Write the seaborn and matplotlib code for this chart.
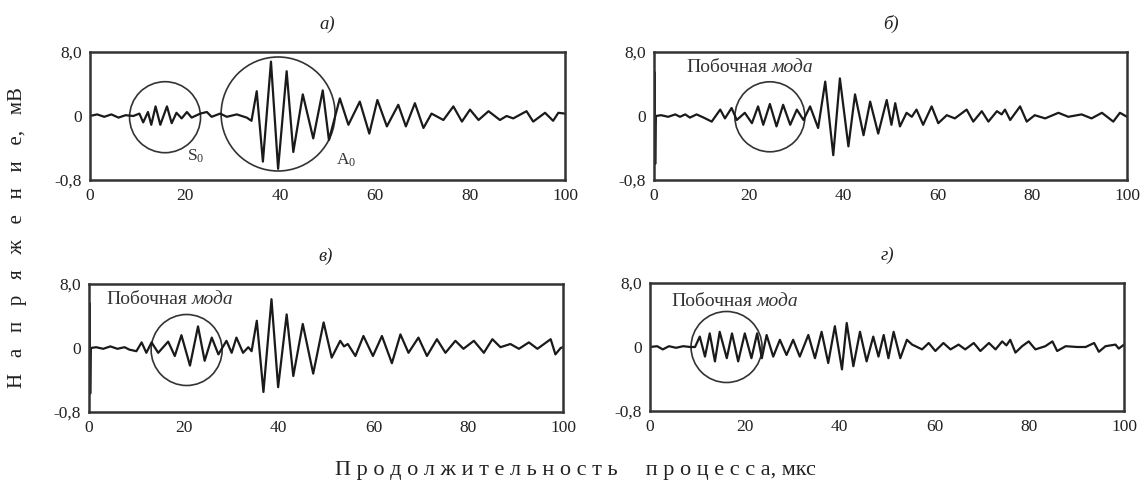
import numpy as np
import pandas as pd
import matplotlib
matplotlib.use("Agg")
import matplotlib.pyplot as plt
from matplotlib.patches import Ellipse
import seaborn as sns

# ---------------- data ----------------
t_a = [0, 1.5, 3, 4.5, 6, 7.5, 9.1, 10.4, 11.2, 12.2, 12.9, 13.8, 14.8, 16.2, 17.2, 18.2,
       19.3, 20.4, 21.4, 23.2, 24.6, 25.6, 27.4, 28.8, 30.9, 33.0, 34.0, 35.1, 36.4, 38.1,
       39.6, 41.4, 42.8, 44.8, 47.0, 49.0, 50.3, 52.6, 54.4, 56.8, 58.8, 60.5, 62.5, 64.9,
       66.5, 68.4, 70.2, 71.9, 74.4, 76.5, 78.3, 80.0, 81.8, 83.9, 86.3, 87.7, 89.1, 91.9,
       93.3, 95.8, 97.5, 98.6, 100]
v_a = [0, 0.2, -0.1, 0.2, -0.2, 0.1, 0, 0.3, -0.8, 0.5, -1.1, 1.2, -1.1, 1.2, -0.9, 0.4,
       -0.3, 0.5, -0.2, 0.3, 0.5, -0.1, 0.3, -0.1, 0.2, -0.2, -0.6, 3.1, -5.7, 6.8,
       -6.6, 5.6, -4.5, 2.7, -2.8, 3.2, -3.0, 2.2, -1.1, 1.8, -2.2, 2.0, -1.3, 1.4,
       -1.3, 1.6, -1.5, 0.3, -0.5, 1.2, -0.7, 0.8, -0.5, 0.6, -0.5, 0.0, -0.3, 0.6,
       -0.7, 0.4, -0.6, 0.4, 0.3]

t_b = [0, 0.1, 0.25, 0.4, 1.5, 3, 4.5, 5.5, 6.6, 7.6, 9, 10.5, 12.2, 14.0, 15.0, 16.4,
       17.5, 19.2, 20.7, 22.0, 23.1, 24.5, 25.9, 27.3, 28.8, 30.2, 31.6, 33.0, 34.7, 36.2,
       37.9, 39.3, 41.1, 42.5, 44.3, 45.7, 47.4, 49.2, 50.2, 51.0, 52.0, 53.4, 54.5, 55.5,
       56.9, 58.7, 60.1, 61.9, 63.6, 66.1, 67.5, 69.3, 70.7, 72.5, 73.5, 74.2, 75.3, 77.4,
       78.8, 80.5, 82.7, 85.5, 87.6, 90.4, 92.5, 94.7, 97.1, 98.5, 100]
v_b = [0, 5.5, -6.0, 0, 0.1, -0.1, 0.2, -0.1, 0.2, -0.2, 0.2, -0.2, -0.7, 0.8, -0.3, 1.0,
       -0.5, 0.4, -0.9, 1.2, -1.1, 1.5, -1.3, 1.4, -1.1, 0.8, -0.5, 1.2, -1.5, 4.3,
       -4.9, 4.7, -3.8, 2.7, -2.4, 1.8, -2.2, 2.0, -1.1, 1.6, -1.3, 0.4, -0.1, 0.8,
       -1.1, 1.2, -0.9, 0.1, -0.3, 0.8, -0.7, 0.6, -0.7, 0.6, 0.2, 0.8, -0.5, 1.2,
       -0.7, 0.1, -0.3, 0.4, -0.1, 0.2, -0.3, 0.4, -0.7, 0.4, -0.1]

t_c = [0, 0.1, 0.25, 0.4, 1.5, 3, 4.5, 6, 7.5, 8.5, 10.0, 11.1, 12.1, 13.2, 14.6, 16.7,
       18.1, 19.5, 21.3, 23.0, 24.4, 25.9, 27.3, 29.0, 30.1, 31.1, 32.5, 33.6, 34.3, 35.4,
       36.8, 38.5, 39.9, 41.7, 43.1, 45.1, 47.3, 49.5, 51.2, 53.0, 53.8, 54.6, 56.2, 57.9,
       59.9, 61.8, 63.9, 65.7, 67.4, 69.5, 71.3, 73.4, 75.2, 77.3, 79.0, 81.2, 83.3, 85.1,
       86.8, 88.9, 90.7, 92.8, 94.6, 97.4, 98.4, 99.5, 100]
v_c = [0, 5.6, -5.7, 0, 0.1, -0.1, 0.2, -0.1, 0.1, -0.2, -0.4, 0.7, -0.6, 0.7, -0.6, 0.8,
       -1.0, 1.6, -2.2, 2.7, -1.6, 1.3, -0.8, 0.9, -0.6, 1.3, -0.6, 0.1, -0.4, 3.4,
       -5.5, 6.1, -4.9, 4.2, -3.5, 3.0, -3.2, 3.2, -1.2, 0.9, 0.2, 0.5, -1.0, 1.5,
       -1.0, 1.5, -1.9, 1.7, -0.6, 1.3, -1.0, 1.1, -0.6, 0.9, -0.1, 0.9, -0.6, 1.1,
       0.1, 0.5, -0.1, 0.7, -0.1, 1.1, -0.8, 0.0, 0.1]

t_d = [0, 1.5, 2.7, 4, 5.5, 7, 8.5, 9.5, 10.5, 11.6, 12.6, 13.7, 14.7, 16.2, 17.3, 18.6,
       20.0, 21.4, 22.6, 23.6, 24.6, 26.0, 27.4, 28.8, 30.2, 31.6, 33.4, 34.8, 36.2, 37.6,
       39.0, 40.5, 41.5, 42.9, 44.3, 45.7, 47.1, 48.2, 49.3, 50.3, 51.4, 52.8, 54.2, 55.3,
       57.4, 58.8, 60.2, 61.9, 63.4, 65.1, 66.5, 68.3, 69.7, 71.5, 72.9, 74.3, 75.2, 76.0,
       77.1, 78.5, 79.9, 81.3, 83.4, 84.9, 85.9, 87.7, 90.1, 91.9, 93.7, 94.7, 96.1, 98.2,
       98.9, 100]
v_d = [0, 0.1, -0.3, 0.1, -0.1, 0.1, 0.0, 0.0, 1.3, -1.2, 1.7, -1.8, 1.9, -1.4, 1.7, -1.8,
       1.7, -1.4, 1.7, -1.4, 1.5, -1.2, 0.9, -1.0, 0.9, -1.2, 1.5, -1.4, 1.9, -2.0,
       2.6, -2.8, 3.0, -2.4, 1.9, -1.8, 1.3, -1.2, 1.5, -1.4, 1.9, -1.4, 0.9, 0.3,
       -0.3, 0.5, -0.5, 0.5, -0.3, 0.3, -0.3, 0.5, -0.5, 0.5, -0.3, 0.7, 0.2, 0.9,
       -0.7, 0.1, 0.7, -0.3, 0.1, 0.7, -0.5, 0.1, 0.0, 0.0, 0.5, -0.6, 0.1, 0.3,
       -0.2, 0.3]

x_ticks = [0, 20, 40, 60, 80, 100]
y_ticks = [-8, 0, 8]
y_tick_labels = ["-0,8", "0", "8,0"]
panel_titles = ["а)", "б)", "в)", "г)"]
side_mode = "Побочная"
side_mode_it = "мода"
y_label = "Н   а   п   р   я   ж   е   н   и   е,   мВ"
x_label = "П р о д о л ж и т е л ь н о с т ь     п р о ц е с с а, мкс"

# ---------------- style ----------------
sns.set_theme(style="white")
plt.rcParams["font.family"] = ["Liberation Serif", "DejaVu Serif"]
plt.rcParams["mathtext.fontset"] = "custom"
plt.rcParams["mathtext.rm"] = "Liberation Serif"
plt.rcParams["mathtext.it"] = "Liberation Serif:italic"

W, H = 1148, 493
fig = plt.figure(figsize=(W / 100, H / 100), dpi=100)
fig.patch.set_facecolor("white")

# axes boxes in pixels: (left, top, right, bottom)
boxes = [(90, 52, 565, 180), (654, 52, 1127, 180), (89, 284, 563, 412), (650, 283, 1124, 411)]
series = [(t_a, v_a), (t_b, v_b), (t_c, v_c), (t_d, v_d)]
LINE = "#1a1a1a"
FS = 12.5

axes = []
for (l, t, r, b), (tt, vv), title in zip(boxes, series, panel_titles):
    ax = fig.add_axes([l / W, 1 - b / H, (r - l) / W, (b - t) / H])
    df = pd.DataFrame({"t": tt, "v": vv})
    sns.lineplot(data=df, x="t", y="v", ax=ax, color=LINE, linewidth=1.6,
                 estimator=None, sort=False)
    ax.set_xlim(0, 100)
    ax.set_ylim(-8, 8)
    ax.set_xticks(x_ticks)
    ax.set_xticklabels([str(x) for x in x_ticks], fontsize=FS)
    ax.set_yticks(y_ticks)
    ax.set_yticklabels(y_tick_labels, fontsize=FS)
    ax.tick_params(axis="x", direction="inout", length=4, width=1.2, pad=4, colors="#222")
    ax.tick_params(axis="y", length=0, pad=6, colors="#222")
    ax.set_xlabel("")
    ax.set_ylabel("")
    for s in ax.spines.values():
        s.set_color("#333")
        s.set_linewidth(1.8)
    ax.text(0.5, 1 + 28 / (b - t), title, transform=ax.transAxes, ha="center",
            va="center", fontsize=FS + 1, style="italic", color="#222")
    axes.append(ax)


def circle(ax, box, cx, cy, diam_px):
    l, t, r, b = box
    w = diam_px / ((r - l) / 100.0)
    h = diam_px / ((b - t) / 16.0)
    ax.add_patch(Ellipse((cx, cy), w, h, fill=False, edgecolor="#333", linewidth=1.2))


circle(axes[0], boxes[0], 15.8, -0.15, 71)
circle(axes[0], boxes[0], 39.6, 0.25, 114)
circle(axes[1], boxes[1], 24.5, -0.1, 70)
circle(axes[2], boxes[2], 20.6, -0.25, 71)
circle(axes[3], boxes[3], 16.15, 0.0, 71)

axes[0].text(22.2, -5.0, r"$\mathrm{S}_0$", fontsize=FS, ha="center", va="center", color="#333")
axes[0].text(54.0, -5.5, r"$\mathrm{A}_0$", fontsize=FS, ha="center", va="center", color="#333")

for ax, (x0, y0) in zip(axes[1:], [(6.9, 6.0), (3.7, 6.0), (4.5, 5.7)]):
    t1 = ax.text(x0, y0, side_mode, fontsize=14, ha="left", va="center", color="#333")
    ax.annotate(side_mode_it, xy=(1, 0), xycoords=t1, xytext=(3, 0),
                textcoords="offset points", ha="left", va="bottom",
                fontsize=14, style="italic", color="#333")

fig.text(18 / W, 1 - 238 / H, y_label, rotation=90, ha="center", va="center",
         fontsize=15, color="#222")
fig.text(575 / W, 1 - 471 / H, x_label, ha="center", va="center",
         fontsize=16, color="#222")

fig.savefig("out.png", dpi=100, facecolor="white")
